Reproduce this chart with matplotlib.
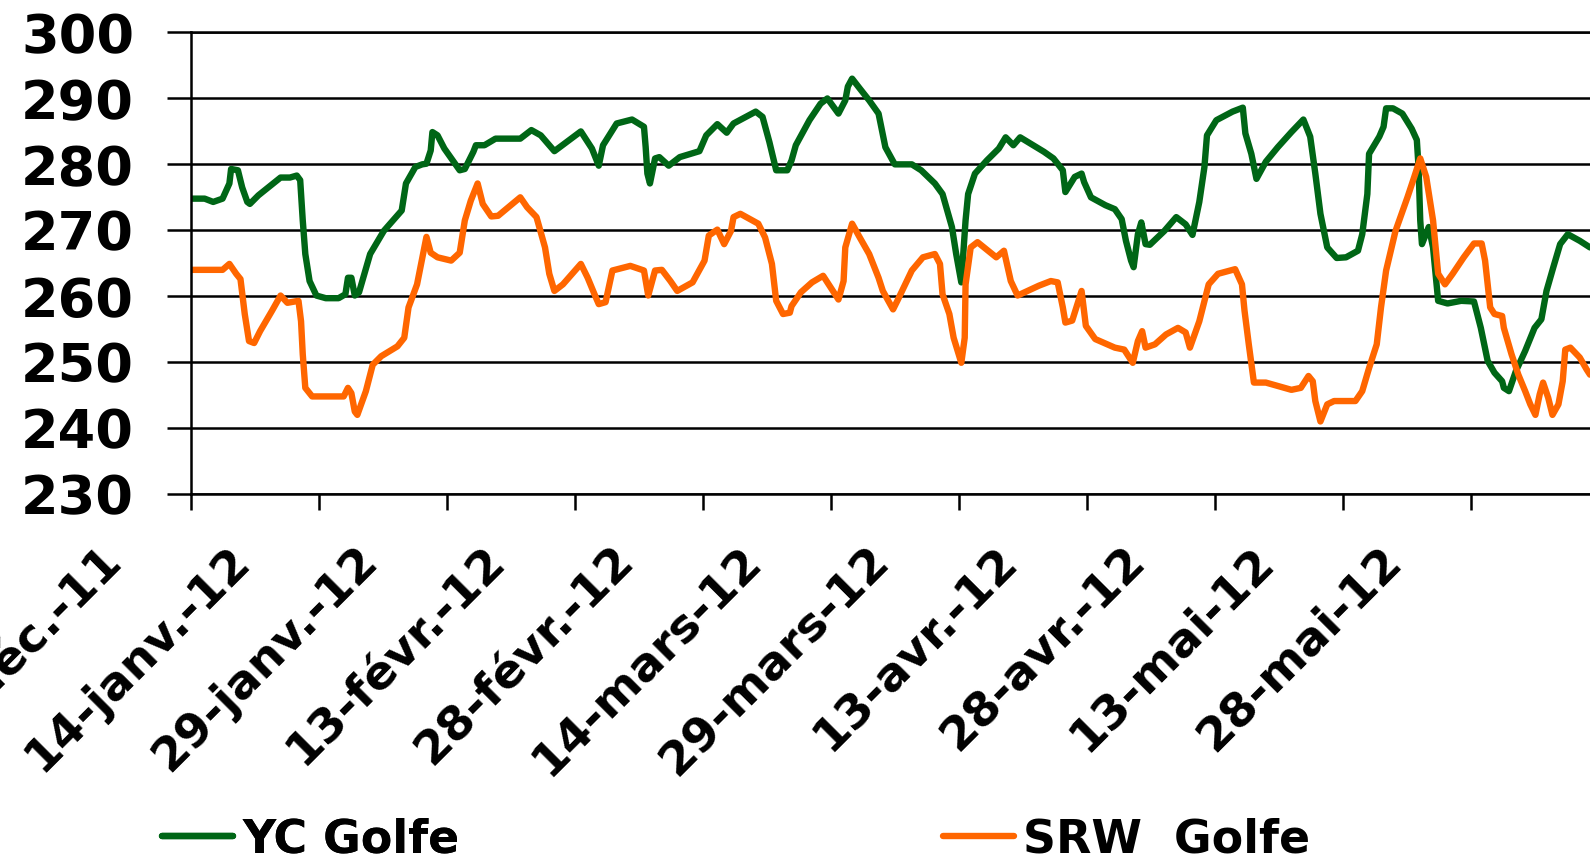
import matplotlib
matplotlib.use("Agg")
import matplotlib.pyplot as plt
import matplotlib.transforms as mtransforms

# ---------------------------------------------------------------------
# Data (days counted from 30-déc.-11, prices)
# ---------------------------------------------------------------------
yc_days = [0, 1.6, 2.6, 3.7, 4.5, 4.7, 5.5, 6.0, 6.6, 6.9, 7.9, 10.5, 11.6, 12.4, 12.8,
           13.1, 13.4, 13.9, 14.7, 15.8, 17.3, 18.1, 18.4, 18.8, 19.2, 19.7, 21.0, 22.6,
           24.7, 25.2, 26.3, 27.1, 27.6, 28.1, 28.3, 28.9, 29.7, 31.5, 32.1, 33.1, 33.4,
           34.4, 35.7, 38.6, 39.9, 41.0, 42.6, 45.7, 47.0, 47.8, 48.3, 49.9, 51.7, 53.1,
           53.3, 53.5, 53.8, 54.4, 54.9, 56.0, 57.3, 59.6, 60.4, 61.7, 62.8, 63.6, 66.2,
           67.0, 67.8, 68.6, 69.9, 70.4, 70.9, 72.5, 73.8, 74.6, 75.9, 76.7, 77.0, 77.5,
           78.4, 79.5, 80.6, 81.4, 82.5, 84.5, 85.6, 87.2, 88.1, 89.2, 89.7, 90.3, 90.8,
           91.1, 91.9, 93.3, 94.7, 95.5, 96.4, 97.2, 100.0, 101.1, 102.2, 102.5, 103.6,
           104.4, 104.7, 105.5, 107.2, 108.3, 109.1, 109.6, 110.2, 110.5, 111.0, 111.4,
           111.9, 112.4, 114.1, 115.5, 116.6, 117.4, 118.2, 118.8, 119.1, 120.2, 122.1,
           123.3, 123.6, 124.3, 124.9, 126.0, 127.4, 129.0, 130.4, 131.2, 131.8, 132.4,
           133.2, 134.3, 135.4, 136.8, 137.3, 137.9, 138.1, 139.3, 139.8, 140.1, 140.9,
           142.0, 143.1, 143.7, 143.9, 144.1, 144.3, 145.1, 145.6, 146.2, 147.3, 148.9,
           150.4, 151.2, 152.0, 152.8, 153.7, 153.9, 154.5, 155.3, 156.4, 157.5, 158.3,
           158.9, 159.7, 160.5, 161.4, 162.8, 164.0]
yc_vals = [274.8, 274.8, 274.3, 274.8, 277.1, 279.3, 279.1, 276.5, 274.3, 274.0, 275.3,
           278.0, 278.0, 278.3, 277.6, 271.5, 266.4, 262.3, 260.1, 259.7, 259.7, 260.3,
           262.8, 262.8, 260.1, 260.6, 266.4, 269.9, 273.0, 277.1, 279.6, 280.0, 280.1,
           282.1, 284.9, 284.4, 282.4, 279.1, 279.3, 281.9, 282.9, 282.9, 283.9, 283.9,
           285.2, 284.4, 282.0, 285.0, 282.4, 279.8, 282.9, 286.2, 286.8, 285.7, 282.6,
           278.6, 277.1, 280.9, 281.1, 279.8, 281.1, 282.0, 284.4, 286.1, 284.8, 286.2,
           288.0, 287.2, 283.4, 279.1, 279.1, 280.6, 282.9, 286.7, 289.2, 290.0, 287.7,
           289.7, 291.8, 293.0, 291.5, 289.7, 287.7, 282.6, 280.0, 280.0, 279.1, 277.1,
           275.5, 270.5, 266.4, 262.1, 271.5, 275.5, 278.6, 280.6, 282.4, 284.1, 282.9,
           284.1, 281.9, 280.9, 279.1, 275.8, 278.1, 278.6, 277.3, 275.0, 273.8, 273.2,
           271.7, 268.4, 265.4, 264.4, 269.4, 271.2, 267.9, 267.8, 269.9, 272.0, 270.9,
           269.3, 274.3, 279.6, 284.4, 286.7, 288.0, 288.6, 284.7, 281.6, 277.8, 280.4,
           282.6, 284.9, 286.8, 284.2, 278.6, 272.5, 267.4, 265.8, 265.9, 266.9, 269.4,
           275.5, 281.6, 284.2, 285.7, 288.5, 288.5, 287.7, 285.4, 283.7, 279.6, 271.5,
           267.9, 270.5, 267.4, 259.3, 258.9, 259.3, 259.2, 255.2, 250.2, 248.4, 247.1,
           246.1, 245.6, 248.6, 251.7, 255.2, 256.5, 260.8, 264.4, 267.9, 269.4, 268.4,
           267.4]

srw_days = [0, 3.7, 4.5, 5.3, 5.8, 6.3, 6.8, 7.4, 8.1, 9.5, 10.5, 11.3, 12.6, 12.9, 13.1,
            13.4, 14.2, 17.9, 18.4, 18.8, 19.2, 19.5, 20.5, 21.3, 22.3, 24.2, 25.0, 25.5,
            26.5, 27.2, 27.6, 28.1, 28.9, 30.5, 31.5, 32.1, 32.8, 33.6, 34.2, 35.2, 36.0,
            38.6, 39.4, 40.5, 41.5, 42.0, 42.6, 43.6, 45.7, 46.5, 47.3, 47.8, 48.6, 49.4,
            51.5, 53.1, 53.6, 54.4, 55.2, 56.2, 57.0, 58.8, 60.2, 60.7, 61.7, 62.5, 63.3,
            63.6, 64.4, 66.5, 67.3, 68.1, 68.6, 69.4, 70.2, 70.4, 71.5, 72.8, 74.1, 75.9,
            76.5, 76.7, 77.5, 78.4, 79.5, 80.6, 81.1, 82.3, 82.8, 84.5, 85.8, 87.2, 87.8,
            88.1, 88.9, 89.4, 90.3, 90.7, 90.8, 91.4, 92.2, 94.4, 95.3, 96.1, 96.9, 99.4,
            100.8, 101.6, 102.2, 102.5, 103.3, 104.4, 104.9, 106.0, 108.3, 109.4, 110.4,
            111.0, 111.5, 111.9, 113.0, 114.3, 115.7, 116.6, 117.1, 118.2, 119.3, 120.4,
            122.4, 123.2, 123.5, 124.0, 124.6, 126.0, 129.0, 130.1, 131.0, 131.5, 131.8,
            132.4, 133.2, 134.0, 136.5, 137.3, 138.1, 139.0, 139.5, 140.1, 141.2, 142.6,
            143.4, 144.1, 144.8, 145.6, 146.2, 147.0, 147.9, 149.2, 150.4, 151.3, 151.7,
            152.3, 152.8, 153.7, 153.9, 154.8, 155.6, 156.4, 157.0, 157.6, 158.1, 158.5,
            159.1, 159.6, 160.3, 160.8, 161.1, 161.7, 162.8, 163.6, 164.0]
srw_vals = [264.0, 264.0, 264.9, 263.4, 262.6, 257.3, 253.2, 252.9, 254.7, 257.8, 260.1,
            259.0, 259.3, 256.2, 251.2, 246.1, 244.8, 244.8, 246.1, 245.3, 242.5, 242.0,
            245.6, 249.6, 250.9, 252.4, 253.7, 258.3, 261.8, 266.4, 269.0, 266.6, 265.9,
            265.4, 266.6, 271.5, 274.5, 277.1, 274.0, 272.1, 272.2, 275.0, 273.5, 272.0,
            267.4, 263.4, 260.8, 261.8, 264.9, 262.8, 260.3, 258.8, 259.1, 263.9, 264.6,
            263.9, 260.1, 263.9, 264.0, 262.3, 260.8, 262.1, 265.4, 269.2, 270.1, 267.9,
            269.9, 272.0, 272.5, 271.0, 268.9, 264.9, 259.3, 257.3, 257.5, 258.5, 260.6,
            262.1, 263.1, 259.5, 262.3, 267.4, 271.0, 268.9, 266.4, 262.8, 260.8, 258.0,
            259.3, 263.9, 265.9, 266.4, 264.9, 260.3, 257.3, 253.7, 249.9, 253.7, 261.8,
            267.4, 268.2, 265.9, 266.9, 262.3, 260.1, 261.6, 262.3, 262.1, 258.3, 256.0,
            256.3, 260.8, 255.5, 253.5, 252.2, 251.9, 249.9, 253.2, 254.7, 252.2, 252.7,
            254.2, 255.2, 254.5, 252.2, 256.2, 261.8, 263.4, 264.1, 261.8, 257.8, 252.7,
            246.9, 246.9, 245.8, 246.1, 247.9, 247.1, 244.1, 241.0, 243.6, 244.1, 244.1,
            245.6, 249.1, 252.7, 258.3, 263.9, 269.9, 275.0, 278.1, 280.9, 278.1, 271.5,
            263.4, 261.8, 263.4, 265.9, 268.0, 268.0, 265.4, 258.3, 257.3, 257.0, 255.2,
            251.2, 248.1, 245.6, 243.6, 242.0, 245.1, 246.9, 244.6, 242.0, 243.6, 247.1,
            251.9, 252.2, 250.7, 248.9, 248.1]

tick_days = [0, 15, 30, 45, 60, 75, 90, 105, 120, 135, 150]
tick_labels = ["30-déc.-11", "14-janv.-12", "29-janv.-12", "13-févr.-12", "28-févr.-12",
               "14-mars-12", "29-mars-12", "13-avr.-12", "28-avr.-12", "13-mai-12",
               "28-mai-12"]
y_ticks = [230, 240, 250, 260, 270, 280, 290, 300]

GREEN = "#006616"
ORANGE = "#ff6600"

# ---------------------------------------------------------------------
# Figure
# ---------------------------------------------------------------------
plt.rcParams['font.family'] = ['DejaVu Sans']
plt.rcParams['font.weight'] = 'bold'

fig = plt.figure(figsize=(15.9, 8.63), dpi=100)
ax = fig.add_axes([191 / 1590, 1 - 494 / 863, 1 - 191 / 1590, (494 - 32.5) / 863])

kw = dict(linewidth=4.6, solid_joinstyle='round', solid_capstyle='round')
l1, = ax.plot(yc_days, yc_vals, color=GREEN, **kw)
l2, = ax.plot(srw_days, srw_vals, color=ORANGE, **kw)

ax.set_xlim(0, 164)
ax.set_ylim(230, 300)

ax.set_yticks(y_ticks)
ax.set_yticklabels([str(v) for v in y_ticks], fontsize=39, fontweight='heavy')
ax.tick_params(axis='y', direction='out', length=17, width=1.8, pad=24)
ax.yaxis.grid(True, color='black', linewidth=1.8)
ax.set_axisbelow(True)

ax.set_xticks(tick_days)
ax.set_xticklabels([])
ax.tick_params(axis='x', direction='out', length=11.5, width=1.8)

for side in ['left', 'bottom', 'top']:
    ax.spines[side].set_linewidth(1.8)
ax.spines['right'].set_visible(False)

# rotated date labels, shifted left of their ticks as in the original
base = mtransforms.blended_transform_factory(ax.transData, ax.transAxes)
trans = mtransforms.offset_copy(base, fig=fig, x=-60, y=-44, units='dots')
for d, lab in zip(tick_days, tick_labels):
    ax.text(d, 0, lab, transform=trans, rotation=45, ha='right', va='top',
            fontsize=34, fontweight='heavy', clip_on=False)

# legend, two separate entries
leg_kw = dict(loc='center left', frameon=False, borderpad=0,
              borderaxespad=0, handlelength=1.55, handletextpad=0.2,
              prop={'size': 33, 'weight': 'heavy'})
leg1 = fig.legend([l1], ["YC Golfe"], bbox_to_anchor=(162 / 1590, 1 - 840 / 863), **leg_kw)
fig.legend([l2], ["SRW  Golfe"], bbox_to_anchor=(943 / 1590, 1 - 840 / 863), **leg_kw)
fig.add_artist(leg1)

fig.savefig("out.png", dpi=100, facecolor='white')
